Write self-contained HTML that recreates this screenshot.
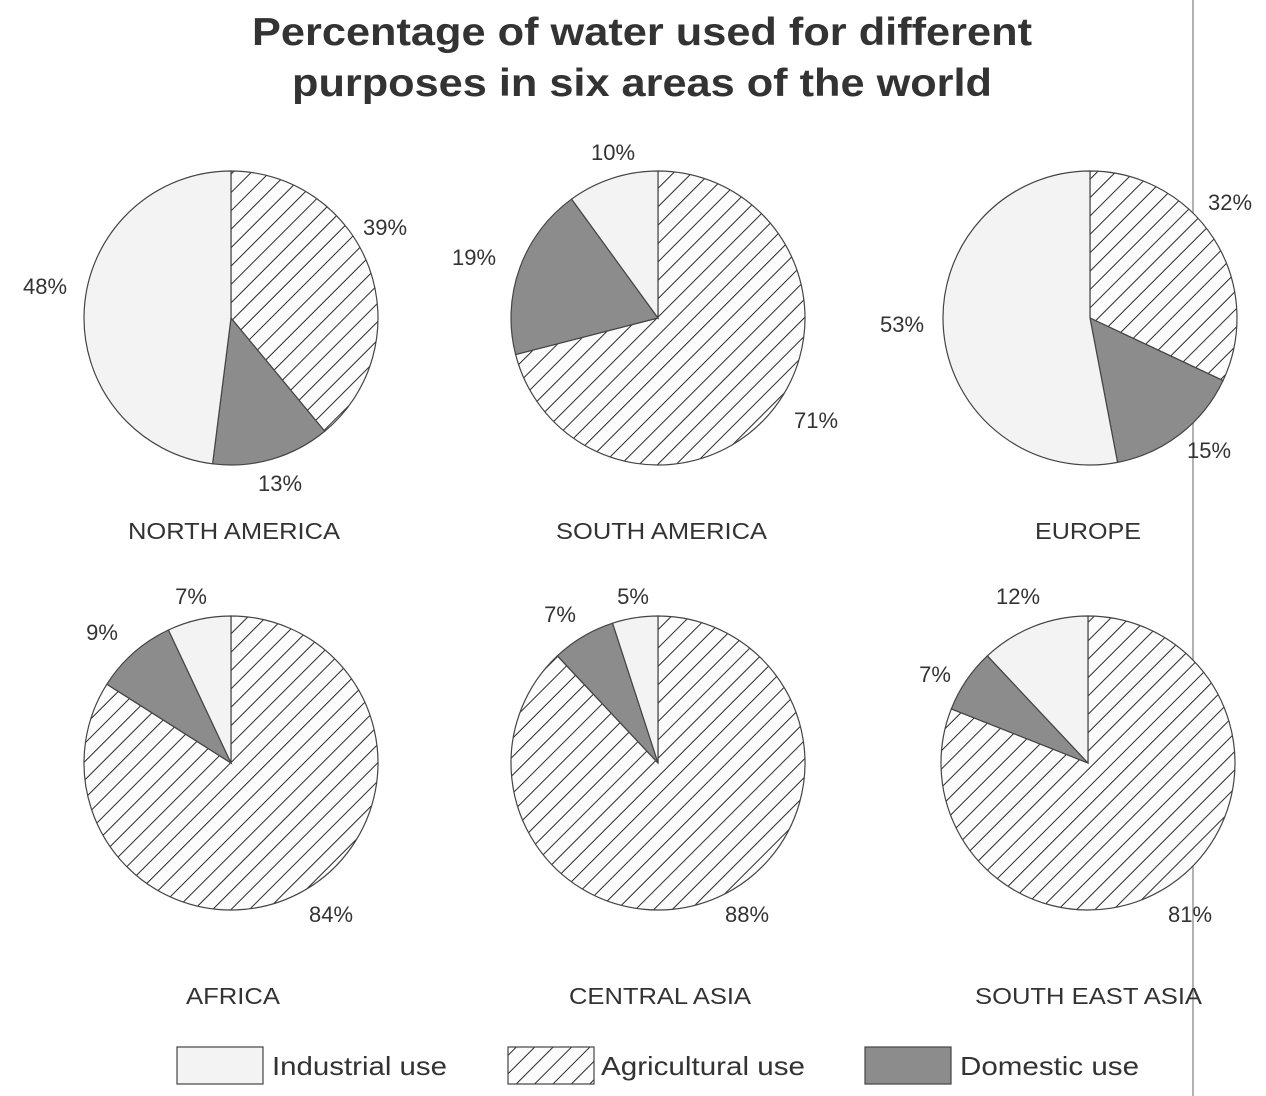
<!DOCTYPE html>
<html><head><meta charset="utf-8"><style>
body{margin:0;background:#fff;}
svg{display:block;font-family:"Liberation Sans",Arial,sans-serif;}
</style></head><body>
<svg id="s" width="1266" height="1096" viewBox="0 0 1266 1096">
<defs>
<pattern id="h" patternUnits="userSpaceOnUse" width="13" height="13" patternTransform="rotate(45)">
<rect width="13" height="13" fill="#fcfcfc"/>
<line x1="0" y1="0" x2="0" y2="13" stroke="#2a2a2a" stroke-width="2"/>
</pattern>
</defs>
<rect width="1266" height="1096" fill="#fff"/>
<line x1="1193" y1="0" x2="1193" y2="1096" stroke="#999" stroke-width="1.5"/>
<text x="252" y="45" font-size="39" font-weight="bold" fill="#333" textLength="780" lengthAdjust="spacingAndGlyphs">Percentage of water used for different</text>
<text x="292" y="96" font-size="39" font-weight="bold" fill="#333" textLength="700" lengthAdjust="spacingAndGlyphs">purposes in six areas of the world</text>
<g id="pies"></g>
<g font-size="23" fill="#333">
<text x="128" y="539" textLength="212" lengthAdjust="spacingAndGlyphs">NORTH AMERICA</text>
<text x="556" y="539" textLength="211" lengthAdjust="spacingAndGlyphs">SOUTH AMERICA</text>
<text x="1035" y="539" textLength="106" lengthAdjust="spacingAndGlyphs">EUROPE</text>
<text x="186" y="1004" textLength="94" lengthAdjust="spacingAndGlyphs">AFRICA</text>
<text x="569" y="1004" textLength="182" lengthAdjust="spacingAndGlyphs">CENTRAL ASIA</text>
<text x="975" y="1004" textLength="227" lengthAdjust="spacingAndGlyphs">SOUTH EAST ASIA</text>
</g>
<g font-size="22" fill="#333" text-anchor="middle">
<text x="385" y="235">39%</text><text x="45" y="294">48%</text><text x="280" y="491">13%</text>
<text x="613" y="160">10%</text><text x="474" y="265">19%</text><text x="816" y="428">71%</text>
<text x="1230" y="210">32%</text><text x="902" y="332">53%</text><text x="1209" y="458">15%</text>
<text x="191" y="604">7%</text><text x="102" y="640">9%</text><text x="331" y="922">84%</text>
<text x="633" y="604">5%</text><text x="560" y="622">7%</text><text x="747" y="922">88%</text>
<text x="1018" y="604">12%</text><text x="935" y="682">7%</text><text x="1190" y="922">81%</text>
</g>
<g font-size="26" fill="#333">
<rect x="177" y="1047" width="86" height="37" fill="#f3f3f3" stroke="#444" stroke-width="1.2"/>
<text x="272" y="1075" textLength="175" lengthAdjust="spacingAndGlyphs">Industrial use</text>
<rect x="508" y="1047" width="86" height="37" fill="url(#h)" stroke="#444" stroke-width="1.2"/>
<text x="601" y="1075" textLength="204" lengthAdjust="spacingAndGlyphs">Agricultural use</text>
<rect x="865" y="1047" width="86" height="37" fill="#8c8c8c" stroke="#444" stroke-width="1.2"/>
<text x="960" y="1075" textLength="179" lengthAdjust="spacingAndGlyphs">Domestic use</text>
</g>
</svg>
<script>
var pies=[[231,318,[39,13,48]],[658,318,[71,19,10]],[1090,318,[32,15,53]],
[231,763,[84,9,7]],[658,763,[88,7,5]],[1088,763,[81,7,12]]];
var fills=["url(#h)","#8c8c8c","#f3f3f3"],r=147,g=document.getElementById("pies"),out="";
pies.forEach(function(p){var a=0;p[2].forEach(function(v,i){
var a0=a*2*Math.PI/100,a1=(a+v)*2*Math.PI/100;a+=v;
var x0=p[0]+r*Math.sin(a0),y0=p[1]-r*Math.cos(a0),x1=p[0]+r*Math.sin(a1),y1=p[1]-r*Math.cos(a1);
out+='<path d="M'+p[0]+','+p[1]+' L'+x0+','+y0+' A'+r+','+r+' 0 '+(v>50?1:0)+' 1 '+x1+','+y1+' Z" fill="'+fills[i]+'" stroke="#444" stroke-width="1.2"/>';
});});
g.innerHTML=out;
</script>
</body></html>
